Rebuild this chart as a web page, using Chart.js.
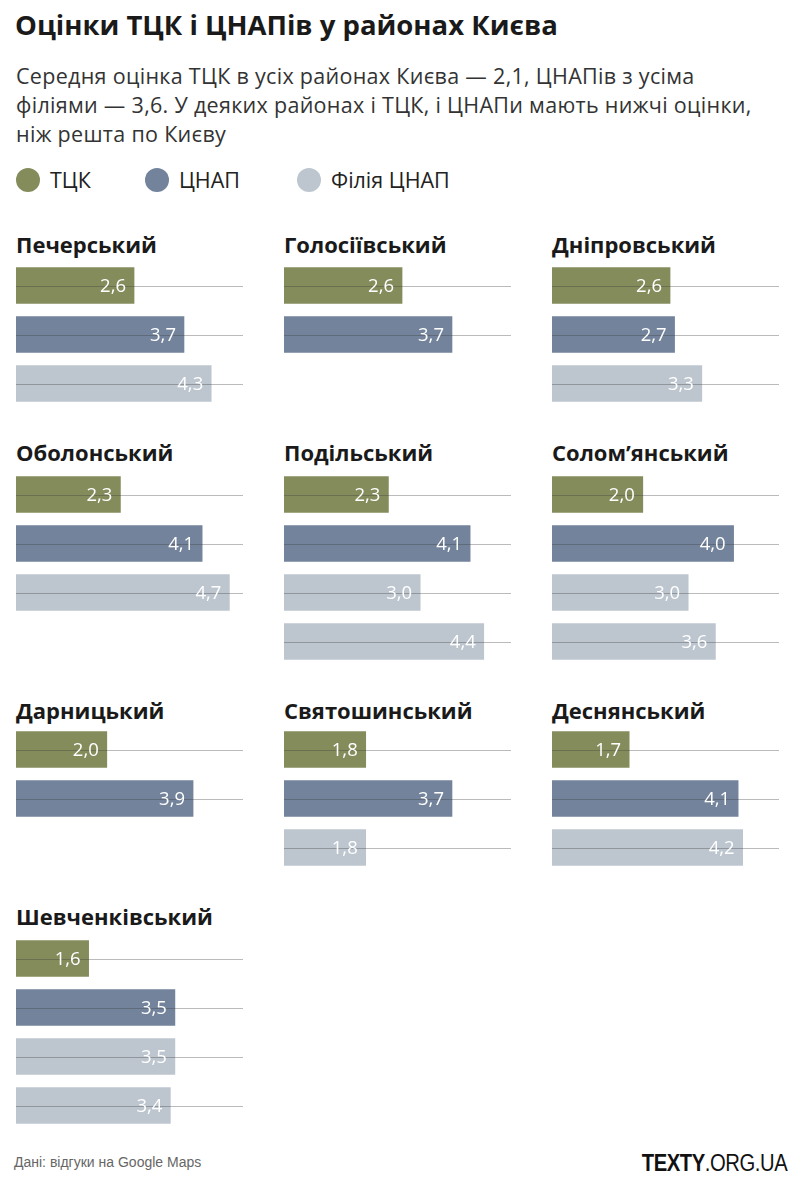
<!DOCTYPE html>
<html lang="uk">
<head>
<meta charset="utf-8">
<script src="https://cdn.jsdelivr.net/npm/chart.js@4.4.0/dist/chart.umd.min.js"></script>
<style>
  body { margin: 0; background: #fff; font-family: "Open Sans", "Noto Sans", sans-serif; color: #1a1a1a; }
  #page { position: relative; width: 800px; height: 1185px; overflow: hidden; }
  .abs { position: absolute; white-space: nowrap; }
  h1 { position: absolute; left: 15px; top: 9px; margin: 0; font-size: 27.5px; line-height: 32px; font-weight: 700; color: #1a1a1a; white-space: nowrap; }
  .sub { left: 16px; top: 61px; font-size: 21.5px; letter-spacing: 0.3px; line-height: 29px; color: #333; }
  .legend-item { position: absolute; top: 168px; height: 24px; font-size: 21.5px; line-height: 24px; color: #222; white-space: nowrap; }
  .legend-item span { display: inline-block; width: 24px; height: 24px; border-radius: 50%; vertical-align: top; margin-right: 10px; }
  .district { font-size: 22px; font-weight: 700; line-height: 26px; color: #1a1a1a; }
  .chartbox { position: absolute; }
  .source { left: 14px; top: 1154px; font-family: "Liberation Sans Narrow", "Liberation Sans", sans-serif; font-size: 14px; color: #666; }
  .brand { right: 13px; top: 1150px; font-family: "Liberation Sans Narrow", "Liberation Sans", sans-serif; font-size: 23px; color: #111; letter-spacing: -0.5px; transform: scaleX(0.88); transform-origin: right center; }
</style>
</head>
<body>
<div id="page">
  <h1>Оцінки ТЦК і ЦНАПів у районах Києва</h1>
  <div class="abs sub">Середня оцінка ТЦК в усіх районах Києва — 2,1, ЦНАПів з усіма<br>філіями — 3,6. У деяких районах і ТЦК, і ЦНАПи мають нижчі оцінки,<br>ніж решта по Києву</div>
  <div id="legend"></div>
  <div id="charts"></div>
  <div class="abs source">Дані: відгуки на Google Maps</div>
  <div class="abs brand"><b>TEXTY</b>.ORG.UA</div>
</div>
<script>
// Data
const districts = ['Печерський', 'Голосіївський', 'Дніпровський', 'Оболонський', 'Подільський',
    'Солом’янський', 'Дарницький', 'Святошинський', 'Деснянський', 'Шевченківський'];
const tckScores = [2.6, 2.6, 2.6, 2.3, 2.3, 2.0, 2.0, 1.8, 1.7, 1.6];
const cnapScores = [3.7, 3.7, 2.7, 4.1, 4.1, 4.0, 3.9, 3.7, 4.1, 3.5];
const branchScores = [[4.3], [], [3.3], [4.7], [3.0, 4.4], [3.0, 3.6], [], [1.8], [4.2], [3.5, 3.4]];
const seriesNames = ['ТЦК', 'ЦНАП', 'Філія ЦНАП'];
const seriesColors = ['#848c5b', '#72839b', '#bdc6cf'];

// Layout
const colX = [16, 284, 552];
const rowTitleTop = [231, 439, 697, 903];
const rowBarTop = [267, 476, 731, 940];
const pitch = 49;
const barH = 36;
const plotW = 227;

// Legend
const legendX = [16, 145, 297];
const legendEl = document.getElementById('legend');
seriesNames.forEach((name, i) => {
    const item = document.createElement('div');
    item.className = 'legend-item';
    item.style.left = legendX[i] + 'px';
    item.innerHTML = '<span style="background:' + seriesColors[i] + '"></span>' + name;
    legendEl.appendChild(item);
});

// Line through the middle of each bar, drawn over the bars
const trackLines = {
    id: 'trackLines',
    afterDatasetsDraw(chart) {
        const ctx = chart.ctx;
        const area = chart.chartArea;
        const yScale = chart.scales.y;
        ctx.save();
        ctx.strokeStyle = 'rgba(60,60,60,0.35)';
        ctx.lineWidth = 1;
        chart.data.labels.forEach((l, i) => {
            const y = Math.round(yScale.getPixelForValue(i)) + 0.5;
            ctx.beginPath();
            ctx.moveTo(area.left, y);
            ctx.lineTo(area.right, y);
            ctx.stroke();
        });
        ctx.restore();
    }
};

// Value labels inside the bar end
const valueLabels = {
    id: 'valueLabels',
    afterDraw(chart) {
        const ctx = chart.ctx;
        const meta = chart.getDatasetMeta(0);
        ctx.save();
        ctx.font = '18.5px "Open Sans", sans-serif';
        ctx.fillStyle = '#fff';
        ctx.textAlign = 'right';
        ctx.textBaseline = 'middle';
        meta.data.forEach((bar, i) => {
            const v = chart.data.datasets[0].data[i];
            ctx.fillText(v.toFixed(1).replace('.', ','), bar.x - 8, bar.y + 1);
        });
        ctx.restore();
    }
};

const chartsEl = document.getElementById('charts');
districts.forEach((name, d) => {
    const col = d % 3;
    const row = Math.floor(d / 3);

    const title = document.createElement('div');
    title.className = 'abs district';
    title.style.left = colX[col] + 'px';
    title.style.top = rowTitleTop[row] + 'px';
    title.textContent = name;
    chartsEl.appendChild(title);

    const values = [tckScores[d], cnapScores[d]].concat(branchScores[d]);
    const colors = [seriesColors[0], seriesColors[1]].concat(branchScores[d].map(() => seriesColors[2]));
    const labels = ['ТЦК', 'ЦНАП'].concat(branchScores[d].map(() => 'Філія ЦНАП'));

    const box = document.createElement('div');
    box.className = 'chartbox';
    box.style.left = colX[col] + 'px';
    box.style.top = (rowBarTop[row] - (pitch - barH) / 2) + 'px';
    const canvas = document.createElement('canvas');
    canvas.width = plotW;
    canvas.height = values.length * pitch;
    box.appendChild(canvas);
    chartsEl.appendChild(box);

    new Chart(canvas.getContext('2d'), {
        type: 'bar',
        data: {
            labels: labels,
            datasets: [{
                data: values,
                backgroundColor: colors,
                barThickness: barH,
                borderWidth: 0
            }]
        },
        options: {
            indexAxis: 'y',
            responsive: false,
            animation: false,
            layout: { padding: 0 },
            plugins: { legend: { display: false }, tooltip: { enabled: false } },
            scales: {
                x: { display: false, min: 0, max: 5 },
                y: { display: false }
            }
        },
        plugins: [trackLines, valueLabels]
    });
});
</script>
</body>
</html>
